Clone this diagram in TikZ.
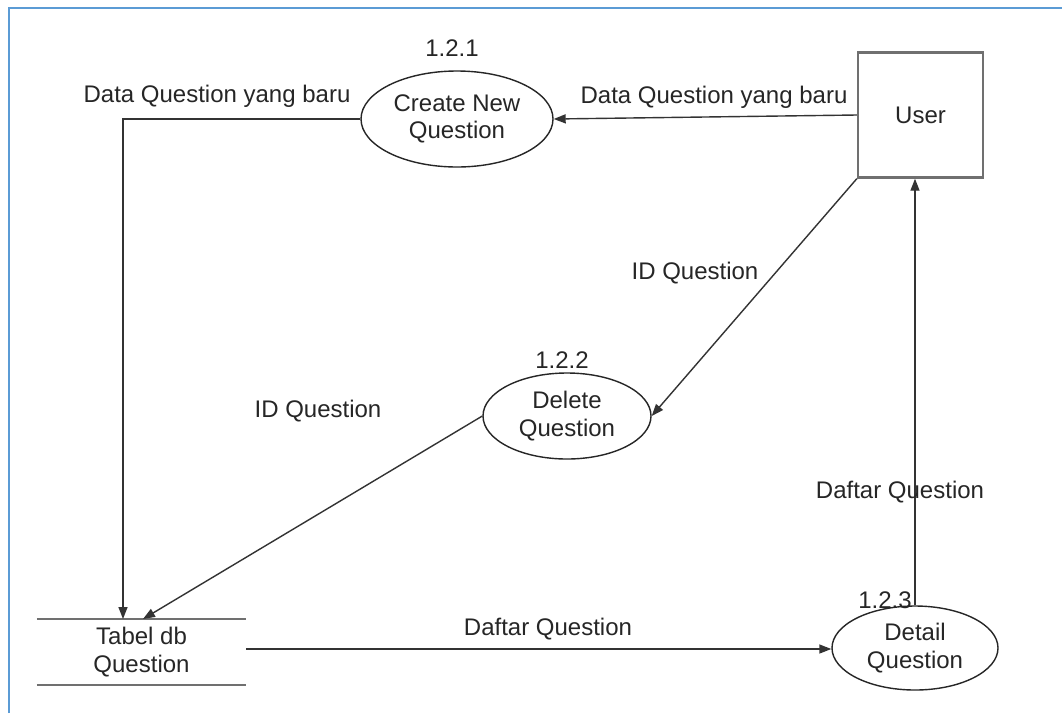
\documentclass[tikz,border=0pt]{standalone}
\usepackage{fontspec}
\setmainfont{Liberation Sans}
\usetikzlibrary{arrows.meta,shapes.geometric}
\definecolor{frameblue}{HTML}{5B9BD5}
\definecolor{boxgray}{HTML}{707070}
\definecolor{txt}{HTML}{262626}
\begin{document}
\begin{tikzpicture}[x=1pt,y=-1pt,
  every node/.style={font=\fontsize{24}{27.5}\selectfont,text=txt,inner sep=0pt},
  proc/.style={ellipse,draw=black!85,line width=1.4pt,align=center},
  ent/.style={rectangle,draw=boxgray,line width=2.4pt,minimum width=125pt,minimum height=125pt},
  flow/.style={draw=black!80,line width=1.4pt,-{Triangle[length=12pt,width=9pt]}},
  store/.style={draw=boxgray,line width=2.4pt},
  lbl/.style={}]
\useasboundingbox (0,0) rectangle (1062,713);
\fill[white] (0,0) rectangle (1062,713);
\draw[frameblue,line width=2pt] (9,713) -- (9,8) -- (1062,8);

% nodes
\node[ent] (user) at (920.5,115) {User};
\node[proc,minimum width=192pt,minimum height=96pt] (create) at (457,119) {Create New\\Question};
\node[proc,minimum width=168pt,minimum height=86pt] (delete) at (567,416) {Delete\\Question};
\node[proc,minimum width=166pt,minimum height=84pt] (detail) at (915,648) {Detail\\Question};
\node[align=center,minimum width=209pt,minimum height=66pt] (tabel) at (141.5,652) {Tabel db\\Question};
\draw[store] (tabel.north west) -- (tabel.north east);
\draw[store] (tabel.south west) -- (tabel.south east);

% numbers
\node (n1) at (452,48) {1.2.1};
\node (n2) at (562,360) {1.2.2};
\node (n3) at (885,600) {1.2.3};

% coordinates
\coordinate (tabA) at (123,619);
\coordinate (tabB) at (143,619);
\coordinate (tabC) at (246,649);

% flows
\draw[flow] (user.west) -- (create.east);
\draw[flow] (create.west) -| (tabA);
\draw[flow] (user.south west) -- (delete.east);
\draw[flow] (delete.west) -- (tabB);
\draw[flow] (tabC) -- (tabC -| detail.west);
\draw[flow] (detail.north) -- (detail.north |- user.south);

% labels
\node[lbl] (l1) at (217,96) {Data Question yang baru};
\node[lbl] (l2) at (714,97) {Data Question yang baru};
\node[lbl] (l3) at (695,273) {ID Question};
\node[lbl] (l4) at (318,411) {ID Question};
\node[lbl] (l5) at (900,492) {Daftar Question};
\node[lbl] (l6) at (548,629) {Daftar Question};
\end{tikzpicture}
\end{document}
